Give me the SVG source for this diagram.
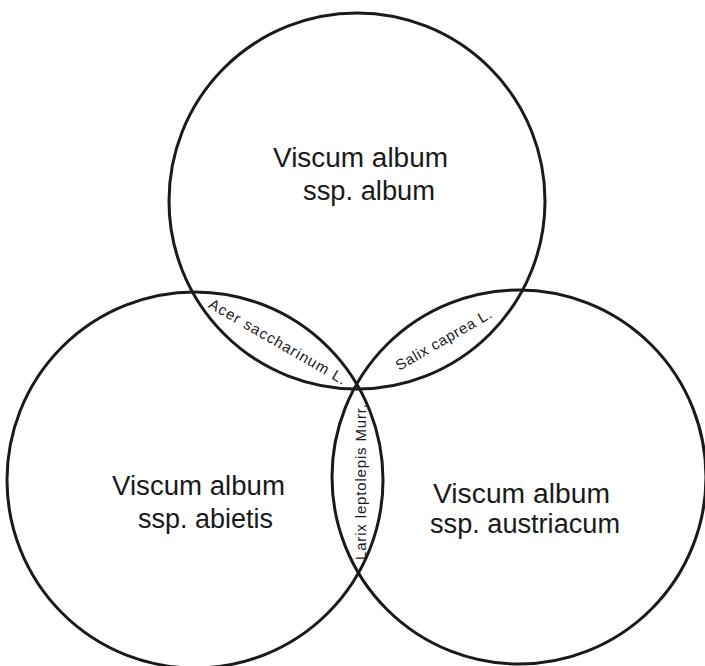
<svg xmlns="http://www.w3.org/2000/svg" width="705" height="666" viewBox="0 0 705 666">
<style>
.c{fill:none;stroke:#1a1a1a;stroke-width:3}
.big{font-family:"Liberation Sans","DejaVu Sans",sans-serif;font-size:27px;fill:#1a1a1a}
.sm{font-family:"Liberation Sans","DejaVu Sans",sans-serif;font-size:15px;fill:#1a1a1a;text-anchor:middle}
</style>
<rect width="705" height="666" fill="#fff"/>
<g id="album">
<circle class="c" cx="357" cy="201" r="188"/>
<text class="big" x="273" y="167" textLength="175" lengthAdjust="spacingAndGlyphs">Viscum album</text>
<text class="big" x="303" y="200" textLength="132" lengthAdjust="spacingAndGlyphs">ssp. album</text>
</g>
<g id="abietis">
<circle class="c" cx="195" cy="480" r="188"/>
<text class="big" x="112" y="495" textLength="173" lengthAdjust="spacingAndGlyphs">Viscum album</text>
<text class="big" x="138" y="528" textLength="135" lengthAdjust="spacingAndGlyphs">ssp. abietis</text>
</g>
<g id="austriacum">
<circle class="c" cx="519" cy="477" r="187"/>
<text class="big" x="433" y="503" textLength="177" lengthAdjust="spacingAndGlyphs">Viscum album</text>
<text class="big" x="430" y="533" textLength="190" lengthAdjust="spacingAndGlyphs">ssp. austriacum</text>
</g>
<g id="acer">
<text class="sm" transform="translate(275,346) rotate(30)" textLength="156" lengthAdjust="spacing">Acer saccharinum L.</text>
</g>
<g id="salix">
<text class="sm" transform="translate(446,344) rotate(-30)" textLength="108" lengthAdjust="spacing">Salix caprea L.</text>
</g>
<g id="larix">
<text class="sm" transform="translate(366,482) rotate(-90)" textLength="156" lengthAdjust="spacing">Larix leptolepis Murr.</text>
</g>
<g id="connectors"></g>
</svg>
